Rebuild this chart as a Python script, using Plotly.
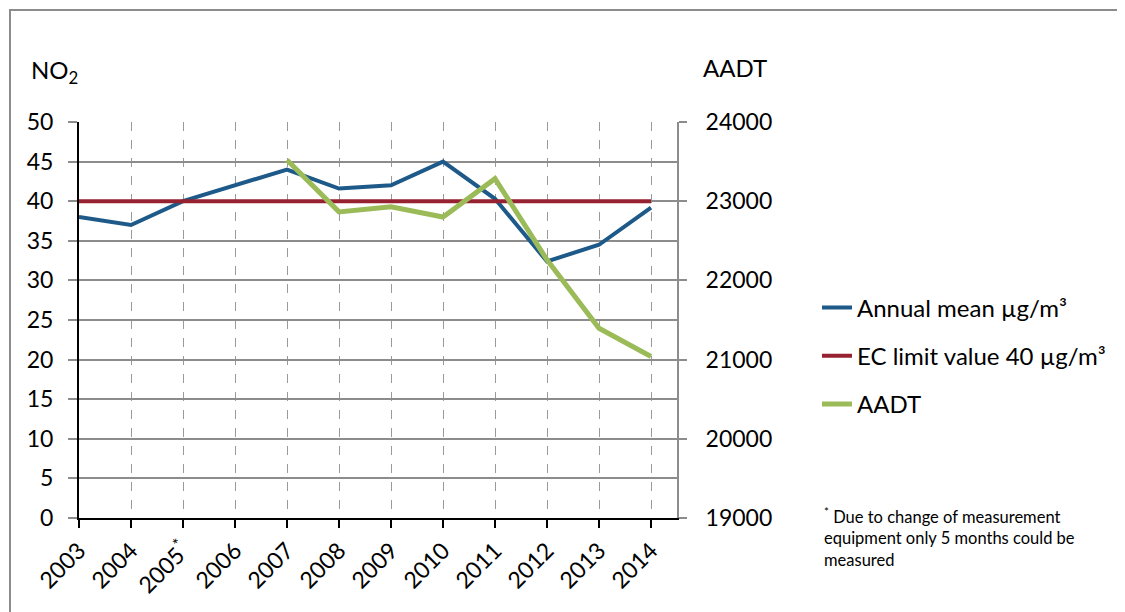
import plotly.graph_objects as go

years = ["2003", "2004", "2005<sup>*</sup>", "2006", "2007", "2008", "2009",
         "2010", "2011", "2012", "2013", "2014"]
annual_mean = [38.0, 37.0, 40.0, 42.0, 44.0, 41.6, 42.0, 45.0, 40.3, 32.4, 34.5, 39.2]
ec_limit = [40] * 12
aadt_years_idx = [4, 5, 6, 7, 8, 9, 10, 11]
aadt = [23520, 22865, 22930, 22800, 23285, 22260, 21395, 21040]

xi = list(range(len(years)))
FONT = "Lato, Noto Sans, sans-serif"

# page body has an 8px default margin; plot area should sit at x 79..677, y 122..518
OFF = 8
PL, PR, PT, PB = 79, 677, 122, 518
PW, PH = PR - PL, PB - PT
W, H = 1125 - OFF, 612 - OFF


def px(x):
    return (x - PL) / PW


def py(y):
    return (PB - y) / PH


fig = go.Figure()
fig.add_trace(go.Scatter(x=xi, y=annual_mean, mode="lines", name="Annual mean µg/m³",
                         line=dict(color="#1d5a89", width=4), legendgroup="a"))
fig.add_trace(go.Scatter(x=xi, y=ec_limit, mode="lines", name="EC limit value 40 µg/m³",
                         line=dict(color="#962231", width=4), legendgroup="b"))
fig.add_trace(go.Scatter(x=aadt_years_idx, y=aadt, mode="lines", name="AADT",
                         line=dict(color="#9bbb59", width=5), legendgroup="c", yaxis="y2"))

fig.update_layout(
    width=W, height=H,
    margin=dict(l=PL - OFF, r=W - (PR - OFF), t=PT - OFF, b=H - (PB - OFF)),
    paper_bgcolor="white", plot_bgcolor="white",
    font=dict(family=FONT, size=23, color="black"),
    showlegend=True,
    legend=dict(x=px(817), xanchor="left", y=py(356), yanchor="middle",
                font=dict(size=24, family=FONT), tracegroupgap=14,
                traceorder="grouped", bgcolor="rgba(0,0,0,0)"),
    xaxis=dict(range=[0, 11.5], tickmode="array", tickvals=xi, ticktext=years,
               tickangle=-45, ticks="outside", ticklen=8, tickcolor="black", tickwidth=1.5,
               showline=True, linecolor="black", linewidth=2,
               showgrid=True, gridcolor="#9a9a9a", griddash="dash", gridwidth=1,
               zeroline=False, tickfont=dict(size=23)),
    yaxis=dict(range=[0, 50], dtick=5, ticks="outside", ticklen=9, tickcolor="#8c8c8c",
               tickwidth=1.5, showline=True, linecolor="black", linewidth=2,
               showgrid=True, gridcolor="#8c8c8c", gridwidth=1.5, zeroline=False,
               ticklabelstandoff=10, tickfont=dict(size=23)),
    yaxis2=dict(range=[19000, 24000], dtick=1000, overlaying="y", side="right",
                tickformat="d",
                ticks="outside", ticklen=8, tickcolor="#8c8c8c", tickwidth=1.5,
                showline=True, linecolor="#8c8c8c", linewidth=2, showgrid=False,
                zeroline=False, ticklabelstandoff=14, tickfont=dict(size=23)),
)

# outer chart frame
fig.add_shape(type="rect", xref="paper", yref="paper",
              x0=px(10), x1=px(1140), y0=py(640), y1=py(10),
              line=dict(color="#8c8c8c", width=2), fillcolor="rgba(0,0,0,0)", layer="below")

fig.add_annotation(text="NO<sub>2</sub>", xref="paper", yref="paper",
                   x=px(29), y=py(72), xanchor="left", yanchor="middle",
                   showarrow=False, font=dict(size=24, family=FONT))
fig.add_annotation(text="AADT", xref="paper", yref="paper",
                   x=px(701), y=py(67), xanchor="left", yanchor="middle",
                   showarrow=False, font=dict(size=24, family=FONT))
fig.add_annotation(text="<sup>*</sup> Due to change of measurement<br>equipment only 5 months could be<br>measured",
                   xref="paper", yref="paper",
                   x=px(822), y=py(503), xanchor="left", yanchor="top",
                   align="left", showarrow=False, font=dict(size=16.5, family=FONT))

fig.write_html("out.html")
